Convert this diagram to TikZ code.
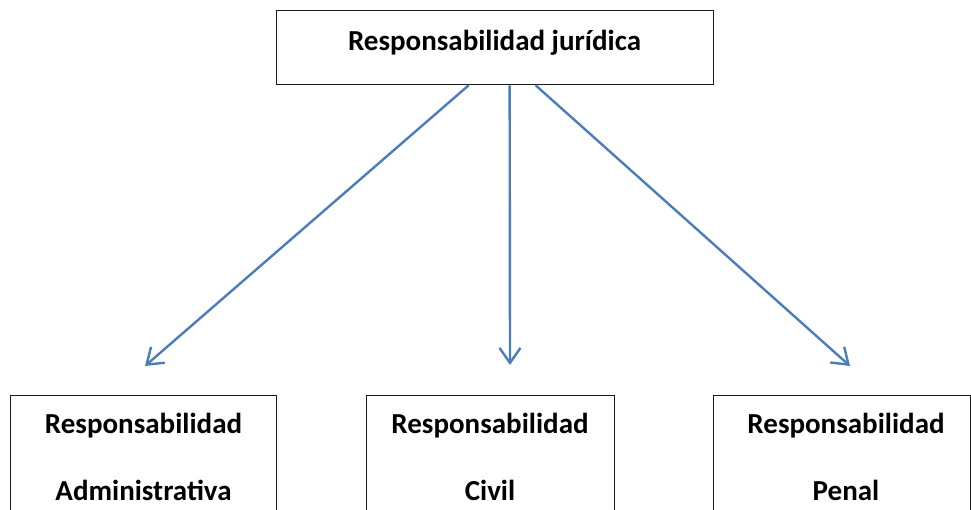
\documentclass[tikz,border=0pt]{standalone}
\usepackage{fontspec}
\setmainfont{Carlito}
\usetikzlibrary{arrows.meta}
\definecolor{arrowblue}{HTML}{4A7EBB}
\definecolor{boxline}{HTML}{1A1A1A}
\begin{document}
\begin{tikzpicture}[x=1pt,y=-1pt,
  box/.style={draw=boxline, line width=1.3pt, fill=none, inner sep=0pt},
  lbl/.style={font=\fontsize{29}{34}\selectfont\bfseries, inner sep=0pt, anchor=base},
  conn/.style={draw=arrowblue, line width=2.4pt, -{Straight Barb[length=15pt,width=21pt,line width=2.4pt]}}]
\useasboundingbox (0,0) rectangle (971,509);
\clip (0,0) rectangle (971,509);
% top box
\node[box, minimum width=437pt, minimum height=74pt, anchor=north west] (root) at (275.5,10) {};
\node[lbl] (roottext) at (494.5,50) {Responsabilidad jurídica};
% bottom boxes
\node[box, minimum width=266pt, minimum height=180pt, anchor=north west] (adm) at (10,395) {};
\node[lbl] (adm1) at (143.5,433) {Responsabilidad};
\node[lbl] (adm2) at (143.5,500) {Administrativa};
\node[box, minimum width=248pt, minimum height=180pt, anchor=north west] (civ) at (366,395) {};
\node[lbl] (civ1) at (490,433) {Responsabilidad};
\node[lbl] (civ2) at (490,500) {Civil};
\node[box, minimum width=257pt, minimum height=180pt, anchor=north west] (pen) at (712.5,395) {};
\node[lbl] (pen1) at (846,433) {Responsabilidad};
\node[lbl] (pen2) at (846,500) {Penal};
% arrow ends
\coordinate (s1) at ([xshift=-26pt]root.south);
\coordinate (s2) at ([xshift=15pt]root.south);
\coordinate (s3) at ([xshift=41pt]root.south);
\coordinate (t1) at (145,366);
\coordinate (t2) at (510,365);
\coordinate (t3) at (850,366);
\draw[conn] (s1) -- (t1);
\draw[conn] (s2) -- (t2);
\draw[conn] (s3) -- (t3);
\end{tikzpicture}
\end{document}
